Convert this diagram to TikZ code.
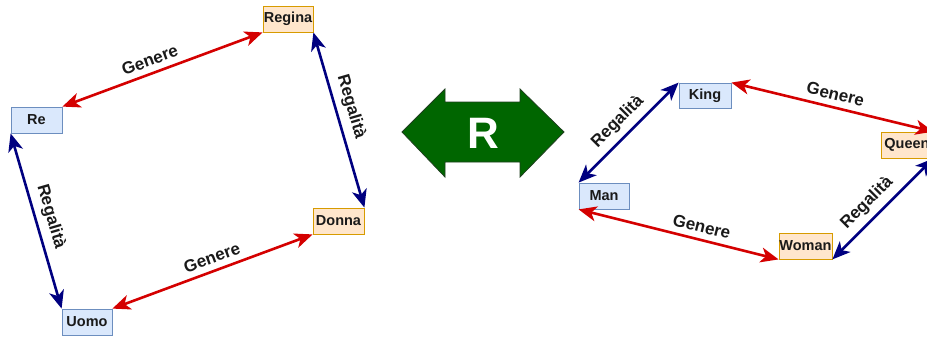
\documentclass[tikz,border=0pt]{standalone}
\usepackage{fontspec}
\setmainfont{Liberation Sans}
\usetikzlibrary{arrows.meta}

\definecolor{bluefill}{HTML}{DAE8FC}
\definecolor{bluedraw}{HTML}{6C8EBF}
\definecolor{orangefill}{HTML}{FFE6CC}
\definecolor{orangedraw}{HTML}{D79B00}
\definecolor{genred}{HTML}{D40000}
\definecolor{regnavy}{HTML}{000080}
\definecolor{rgreen}{HTML}{006600}
\definecolor{rgreenline}{HTML}{1F3F1F}
\definecolor{labeltext}{HTML}{1A1A1A}

\tikzset{
  wordbox/.style={rectangle, minimum width=51pt, minimum height=26pt, inner sep=0pt,
    line width=0.8pt, font=\fontsize{14.5pt}{17pt}\selectfont\bfseries, text=labeltext},
  malebox/.style={wordbox, fill=bluefill, draw=bluedraw},
  femalebox/.style={wordbox, fill=orangefill, draw=orangedraw},
  link/.style={line width=2.6pt, {Stealth[length=18pt,width=15pt,inset=5pt]}-{Stealth[length=18pt,width=15pt,inset=5pt]}},
  genlink/.style={link, genred},
  reglink/.style={link, regnavy},
  edgetext/.style={font=\fontsize{17pt}{20pt}\selectfont\bfseries, text=labeltext, sloped, above=4pt, inner sep=2pt}
}

\begin{document}
\begin{tikzpicture}[x=1pt, y=-1pt]
  \useasboundingbox (0,0) rectangle (927,338);
  \clip (0,0) rectangle (927,338);

  % Italian words
  \node[femalebox, minimum width=50pt] (regina) at (288,19)  {Regina};
  \node[malebox]                       (re)     at (36.5,120) {Re};
  \node[femalebox]                     (donna)  at (338.5,221) {Donna};
  \node[malebox, minimum width=50pt]   (uomo)   at (87,322)  {Uomo};

  \draw[genlink] (re.north east) -- node[edgetext, pos=0.46] {Genere} (regina.south west);
  \draw[reglink] (regina.south east) -- node[edgetext, pos=0.45] {Regalità} (donna.north east);
  \draw[reglink] (re.south west) -- node[edgetext, pos=0.5] {Regalità} (uomo.north west);
  \draw[genlink] (uomo.north east) -- node[edgetext, pos=0.52] {Genere} (donna.south west);

  % relation arrow in the middle
  \path[fill=rgreen, draw=rgreenline, line width=0.8pt]
    (402,132) -- (445,89) -- (445,102) -- (520,102) -- (520,89) -- (564,132)
    -- (520,177) -- (520,162) -- (445,162) -- (445,177) -- cycle;
  \node[text=white, font=\fontsize{44pt}{48pt}\selectfont\bfseries] (rel) at (483,133) {R};

  % English words
  \node[malebox, minimum width=52pt, minimum height=25pt] (king)  at (705,95.5) {King};
  \node[malebox, minimum width=50pt]                      (man)   at (604,196)  {Man};
  \node[femalebox, minimum width=52pt]                    (queen) at (907,145)  {Queen};
  \node[femalebox, minimum width=53pt]                    (woman) at (805.5,246) {Woman};

  \draw[reglink] (man.north west) -- node[edgetext, pos=0.5] {Regalità} (king.north west);
  \draw[genlink] (king.north east) -- node[edgetext, pos=0.5] {Genere} (queen.north east);
  \draw[genlink] (man.south west) -- node[edgetext, pos=0.6] {Genere} (woman.south west);
  \draw[reglink] (woman.south east) -- node[edgetext, pos=0.45] {Regalità} (queen.south east);
\end{tikzpicture}
\end{document}
